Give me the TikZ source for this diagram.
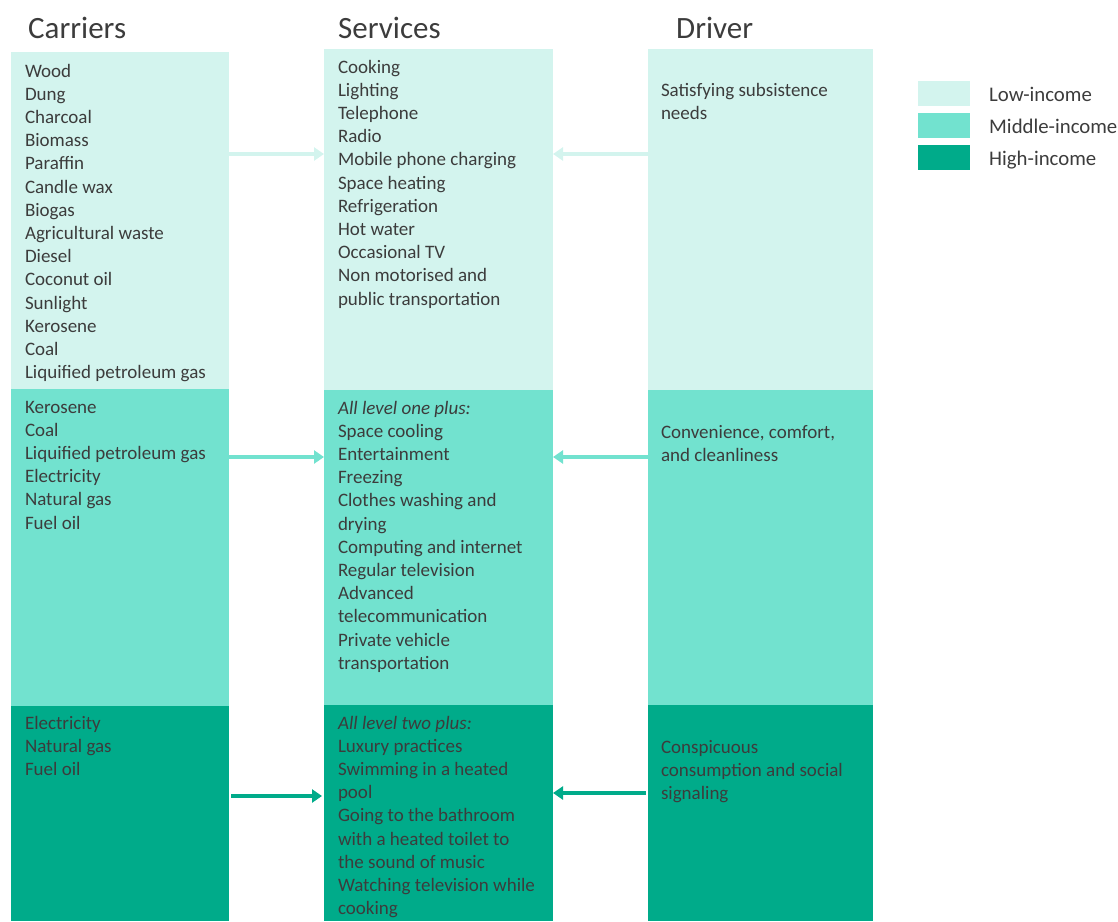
\documentclass[tikz,border=0pt]{standalone}
\usepackage{fontspec}
\setmainfont{Carlito}
\usetikzlibrary{arrows.meta}
\definecolor{lowinc}{HTML}{D3F4EE}
\definecolor{midinc}{HTML}{72E2CF}
\definecolor{highinc}{HTML}{00AB8A}
\definecolor{ink}{HTML}{3C3C3C}
\tikzset{
  band/.style={draw=none, anchor=north west, inner sep=0pt, outer sep=0pt},
  list/.style={anchor=north west, inner sep=0pt, outer sep=0pt, align=left,
    font=\fontsize{19}{23.2}\selectfont, text=ink, yshift=16.24pt},
  heading/.style={anchor=base west, inner sep=0pt, font=\fontsize{31}{36}\selectfont, text=ink},
  keytext/.style={anchor=base west, inner sep=0pt, font=\fontsize{20.8}{25}\selectfont, text=ink},
  swatch/.style={draw=none, anchor=north west, inner sep=0pt, minimum width=52pt, minimum height=25pt},
  link/.style={line width=3.6pt, -{Triangle[length=10pt,width=13pt]}}
}
\begin{document}
\begin{tikzpicture}[x=1pt,y=-1pt]
\useasboundingbox (0,0) rectangle (1118,921);

% column headings
\node[heading] (hcar) at (28,38) {Carriers};
\node[heading] (hser) at (338,38) {Services};
\node[heading] (hdrv) at (676,38) {Driver};

% carriers column
\node[band, fill=lowinc,  minimum width=218pt, minimum height=337pt] (cl) at (11,52) {};
\node[band, fill=midinc,  minimum width=218pt, minimum height=317pt] (cm) at (11,389) {};
\node[band, fill=highinc, minimum width=218pt, minimum height=215pt] (ch) at (11,706) {};

% services column
\node[band, fill=lowinc,  minimum width=229pt, minimum height=341pt] (sl) at (324,49) {};
\node[band, fill=midinc,  minimum width=229pt, minimum height=315pt] (sm) at (324,390) {};
\node[band, fill=highinc, minimum width=229pt, minimum height=216pt] (sh) at (324,705) {};

% driver column
\node[band, fill=lowinc,  minimum width=225pt, minimum height=341pt] (dl) at (648,49) {};
\node[band, fill=midinc,  minimum width=225pt, minimum height=315pt] (dm) at (648,390) {};
\node[band, fill=highinc, minimum width=225pt, minimum height=216pt] (dh) at (648,705) {};

% carrier lists
\node[list] (tcl) at (25,77) {\strut Wood\\Dung\\Charcoal\\Biomass\\Paraffin\\Candle wax\\Biogas\\Agricultural waste\\Diesel\\Coconut oil\\Sunlight\\Kerosene\\Coal\\Liquified petroleum gas};
\node[list] (tcm) at (25,413) {\strut Kerosene\\Coal\\Liquified petroleum gas\\Electricity\\Natural gas\\Fuel oil};
\node[list] (tch) at (25,729) {\strut Electricity\\Natural gas\\Fuel oil};

% service lists
\node[list] (tsl) at (338,73) {\strut Cooking\\Lighting\\Telephone\\Radio\\Mobile phone charging\\Space heating\\Refrigeration\\Hot water\\Occasional TV\\Non motorised and\\public transportation};
\node[list] (tsm) at (338,414) {\strut \textit{All level one plus:}\\Space cooling\\Entertainment\\Freezing\\Clothes washing and\\drying\\Computing and internet\\Regular television\\Advanced\\telecommunication\\Private vehicle\\transportation};
\node[list] (tsh) at (338,729) {\strut \textit{All level two plus:}\\Luxury practices\\Swimming in a heated\\pool\\Going to the bathroom\\with a heated toilet to\\the sound of music\\Watching television while\\cooking};

% driver texts
\node[list] (tdl) at (661,96) {\strut Satisfying subsistence\\needs};
\node[list] (tdm) at (661,438) {\strut Convenience, comfort,\\and cleanliness};
\node[list] (tdh) at (661,753) {\strut Conspicuous\\consumption and social\\signaling};

% rows of the arrows
\coordinate (rowlow) at (0,154);
\coordinate (rowmid) at (0,457);
\coordinate (rowhighl) at (0,796);
\coordinate (rowhighr) at (0,793);

\draw[link, lowinc] (cl.east |- rowlow) -- (sl.west |- rowlow);
\draw[link, lowinc] (dl.west |- rowlow) -- (sl.east |- rowlow);
\draw[link, midinc] (cm.east |- rowmid) -- (sm.west |- rowmid);
\draw[link, midinc] (dm.west |- rowmid) -- (sm.east |- rowmid);
\draw[link, highinc, shorten <=2pt, shorten >=2pt] (ch.east |- rowhighl) -- (sh.west |- rowhighl);
\draw[link, highinc, shorten <=2pt] (dh.west |- rowhighr) -- (sh.east |- rowhighr);

% legend
\node[swatch, fill=lowinc]  (klow)  at (918,81) {};
\node[swatch, fill=midinc]  (kmid)  at (918,113) {};
\node[swatch, fill=highinc] (khigh) at (918,145) {};
\node[keytext] (tlow)  at (989,101) {Low-income};
\node[keytext] (tmid)  at (989,133) {Middle-income};
\node[keytext] (thigh) at (989,165) {High-income};
\end{tikzpicture}
\end{document}
